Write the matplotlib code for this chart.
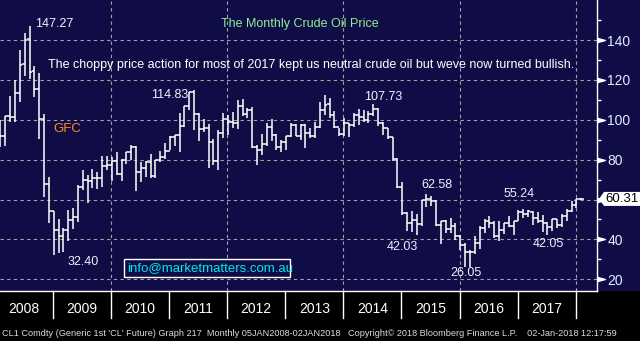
import numpy as np
import pandas as pd
import matplotlib
matplotlib.use("Agg")
import matplotlib.pyplot as plt
from matplotlib.patches import Rectangle, Polygon

# CL1 generic front month, monthly bars Jan 2008 - Jan 2018
months = pd.date_range("2008-01-01", "2018-01-01", freq="MS")

opens = [96.0, 91.9, 101.8, 101.6, 113.5, 127.8, 140.3, 124.3, 115.5, 100.6, 67.8, 54.4,
         44.6, 41.7, 44.8, 49.7, 51.1, 66.3, 69.9, 69.5, 70.6, 70.6, 77.0, 77.3,
         79.4, 72.9, 79.7, 83.8, 86.2, 74.0, 75.6, 79.0, 71.9, 80.0, 81.4, 84.1,
         91.4, 92.2, 97.0, 106.7, 113.9, 102.7, 95.4, 95.7, 88.8, 79.2, 93.2, 100.4,
         98.8, 98.5, 107.1, 103.0, 104.9, 86.5, 85.0, 88.1, 96.5, 92.2, 86.2, 88.9,
         91.8, 97.5, 92.1, 97.2, 93.5, 92.0, 96.6, 105.0, 107.7, 102.3, 96.4, 92.7,
         98.4, 97.5, 102.6, 101.6, 99.7, 102.7, 105.4, 98.2, 96.0, 91.2, 80.5, 66.2,
         53.3, 48.2, 49.8, 47.6, 59.6, 60.3, 59.5, 47.1, 49.2, 45.1, 46.6, 41.7,
         37.0, 33.6, 33.8, 38.3, 45.9, 49.1, 48.3, 41.6, 44.7, 48.2, 46.9, 49.4,
         53.7, 52.8, 54.0, 50.6, 49.3, 48.3, 46.0, 50.2, 47.2, 51.7, 54.4, 57.4,
         60.4]
highs = [100.09, 102.08, 111.80, 119.93, 135.09, 143.67, 147.27, 127.0, 123.5, 102.65, 71.25, 54.5,
         50.0, 45.5, 54.7, 55.7, 67.3, 74.8, 72.3, 75.4, 74.0, 82.0, 82.0, 81.4,
         83.95, 80.5, 83.9, 87.15, 87.0, 79.0, 79.5, 82.97, 80.0, 84.4, 88.6, 92.0,
         92.58, 103.4, 106.95, 113.93, 114.83, 103.4, 100.6, 98.0, 90.5, 94.65, 103.4, 102.4,
         103.74, 109.95, 110.55, 106.0, 106.2, 87.3, 92.94, 98.3, 100.4, 92.95, 89.9, 92.0,
         98.24, 97.8, 97.8, 97.8, 96.0, 99.0, 108.9, 112.24, 110.7, 104.5, 95.9, 100.75,
         98.6, 103.4, 105.2, 104.99, 104.4, 107.73, 105.8, 98.8, 95.9, 91.5, 81.0, 69.0,
         53.6, 54.24, 52.5, 59.9, 62.58, 61.9, 59.7, 49.3, 49.5, 50.9, 48.4, 42.0,
         38.4, 34.7, 41.9, 46.78, 50.2, 51.67, 49.0, 49.0, 48.3, 51.93, 49.2, 54.51,
         55.24, 54.9, 54.3, 53.7, 52.0, 48.9, 50.4, 50.2, 52.8, 55.2, 59.05, 60.5,
         60.74]
lows = [86.11, 86.80, 98.65, 98.65, 109.10, 122.0, 120.42, 111.34, 90.51, 61.30, 48.25, 32.40,
        33.2, 33.55, 39.4, 45.1, 48.7, 65.0, 58.32, 65.6, 65.05, 66.5, 74.8, 69.5,
        72.43, 69.5, 78.0, 80.0, 64.24, 69.0, 71.5, 70.8, 71.0, 79.0, 80.1, 85.0,
        87.1, 84.0, 96.4, 105.0, 94.63, 89.6, 94.0, 75.71, 77.1, 74.95, 91.0, 92.5,
        96.0, 95.4, 102.0, 101.0, 85.9, 77.28, 82.2, 87.0, 89.6, 84.9, 84.05, 84.6,
        91.5, 92.0, 90.0, 86.06, 91.0, 91.0, 95.9, 102.2, 101.0, 96.1, 91.77, 91.9,
        91.24, 96.5, 97.4, 98.9, 98.6, 101.8, 97.1, 92.5, 90.4, 79.44, 65.69, 52.07,
        44.2, 43.6, 42.03, 46.7, 56.5, 57.0, 46.68, 37.75, 43.2, 43.0, 39.9, 34.5,
        26.19, 26.05, 32.6, 35.2, 43.0, 45.8, 40.57, 39.19, 42.5, 46.0, 42.2, 49.1,
        50.7, 51.2, 47.1, 48.2, 43.8, 42.05, 44.0, 45.6, 46.3, 49.1, 53.8, 55.8,
        59.95]
closes = [91.75, 101.84, 101.58, 113.46, 127.35, 140.00, 124.08, 115.46, 100.64, 67.81, 54.43, 44.60,
          41.68, 44.76, 49.66, 51.12, 66.31, 69.89, 69.45, 70.61, 70.61, 77.00, 77.28, 79.36,
          72.89, 79.66, 83.76, 86.15, 73.97, 75.63, 78.95, 71.92, 79.97, 81.43, 84.11, 91.38,
          92.19, 96.97, 106.72, 113.93, 102.70, 95.42, 95.70, 88.81, 79.20, 93.19, 100.36, 98.83,
          98.48, 107.07, 103.02, 104.87, 86.53, 84.96, 88.06, 96.47, 92.19, 86.24, 88.91, 91.82,
          97.49, 92.05, 97.23, 93.46, 91.97, 96.56, 105.03, 107.65, 102.33, 96.38, 92.72, 98.42,
          97.49, 102.59, 101.58, 99.74, 102.71, 105.37, 98.17, 95.96, 91.16, 80.54, 66.15, 53.27,
          48.24, 49.76, 47.60, 59.63, 60.30, 59.47, 47.12, 49.20, 45.09, 46.59, 41.65, 37.04,
          33.62, 33.75, 38.34, 45.92, 49.10, 48.33, 41.60, 44.70, 48.24, 46.86, 49.44, 53.72,
          52.81, 54.01, 50.60, 49.33, 48.32, 46.04, 50.17, 47.23, 51.67, 54.38, 57.40, 60.42,
          60.31]

years = [str(y) for y in range(2008, 2018)]
price_ticks = [20, 40, 60, 80, 100, 120, 140]
minor_ticks = [30, 50, 70, 90, 110, 130, 150]
last_price = closes[-1]

W, H = 640, 341
NAVY = "#100c46"
SANS = ["Liberation Sans", "DejaVu Sans"]

fig = plt.figure(figsize=(6.4, 3.41), dpi=100, facecolor="black")


def fx(px):
    return px / W


def fy(py):
    return 1 - py / H


# navy panel behind chart and price scale
fig.patches.append(Rectangle((0, fy(291)), 1, 291 / H, transform=fig.transFigure,
                             facecolor=NAVY, edgecolor="none", zorder=-5))

ax = fig.add_axes([0, fy(291), fx(597), 291 / H])
ax.set_facecolor(NAVY)

x = np.arange(len(months))
ax.vlines(x, lows, highs, color="white", lw=1.1, zorder=3)
ax.hlines(opens, x - 0.5, x, color="white", lw=1.1, zorder=3)
ax.hlines(closes, x, x + 0.5, color="white", lw=1.1, zorder=3)

ax.set_xlim(-0.103, 123.24)
ax.set_ylim(14.13, 160.07)

# year boundaries
edges = 10.85 + 12 * np.arange(len(years))
for e in edges[1::2]:
    ax.axvline(e, color="#a4a4a4", lw=0.8, ls=(0, (3, 3)), zorder=1)
ax.set_yticks(price_ticks)
# the last price tag sits over the 60 label
ax.set_yticklabels(["" if t == 60 else str(t) for t in price_ticks])
ax.yaxis.grid(True, color="#a4a4a4", lw=0.8, ls=(0, (3, 3)), zorder=1)
ax.set_xticks([])

# right price scale
ax.yaxis.tick_right()
ax.set_yticks(minor_ticks, minor=True)
ax.tick_params(axis="y", which="major", length=0, pad=7.5, labelcolor="#e4eaff",
               labelsize=10, labelfontfamily=SANS)
ax.tick_params(axis="y", which="minor", length=3, width=1, color="white", direction="out")
for s in ["top", "left"]:
    ax.spines[s].set_visible(False)
ax.spines["right"].set_color("white")
ax.spines["bottom"].set_color("white")
ax.spines["right"].set_linewidth(1)
ax.spines["bottom"].set_linewidth(1)

arrow = [(-1, -0.55), (1, 0), (-1, 0.55), (-1, -0.55)]
ax.plot([1 + 4 / 597] * len(price_ticks), price_ticks, ls="none", marker=arrow,
        markersize=5.5, color="white", transform=ax.get_yaxis_transform(), clip_on=False)

# last price tag
tag_y = 279.3 - (last_price - 20) * 1.994
tag = Polygon([(fx(599), fy(tag_y)), (fx(604), fy(tag_y - 7)), (fx(640), fy(tag_y - 7)),
               (fx(640), fy(tag_y + 7)), (fx(604), fy(tag_y + 7))],
              closed=True, transform=fig.transFigure, facecolor="white", edgecolor="none",
              zorder=5)
fig.add_artist(tag)
fig.text(fx(605), fy(tag_y), f"{last_price:.2f}", color="black", fontsize=9.5,
         family=SANS, va="center", ha="left", zorder=6)

# year band below the chart
for e in edges:
    xp = 0.5 + 4.84 * e
    fig.add_artist(plt.Line2D([fx(xp), fx(xp)], [fy(291), fy(318)], color="white", lw=1,
                              transform=fig.transFigure))
for yr, e in zip(years, edges):
    xp = 0.5 + 4.84 * (e - 6)
    fig.text(fx(xp), fy(309), yr, color="white", fontsize=10, family=SANS,
             ha="center", va="center")

fig.text(fx(2), fy(333),
         "CL1 Comdty (Generic 1st 'CL' Future) Graph 217  Monthly 05JAN2008-02JAN2018   "
         "Copyright\u00a9 2018 Bloomberg Finance L.P.    02-Jan-2018 12:17:59",
         color="#dcdcdc", fontsize=6.55, family=SANS, ha="left", va="center")

# titles and notes
fig.text(fx(300), fy(24), "The Monthly Crude Oil Price", color="#8ef08e", fontsize=9,
         family=SANS, ha="center", va="center")
fig.text(fx(48), fy(65),
         "The choppy price action for most of 2017 kept us neutral crude oil but weve now turned bullish.",
         color="white", fontsize=9, family=SANS, ha="left", va="center")
fig.text(fx(53), fy(129), "GFC", color="#ff8c1a", fontsize=9.5, family=SANS,
         ha="left", va="center")

# turning point labels
points = [("147.27", 35, 24), ("114.83", 151, 95), ("107.73", 364, 97), ("32.40", 68, 262),
          ("62.58", 421, 185), ("42.03", 387, 247), ("26.05", 450, 273),
          ("55.24", 504, 194), ("42.05", 533, 244)]
for label, xp, yp in points:
    fig.text(fx(xp), fy(yp), label, color="#eef2ff", fontsize=9, family=SANS,
             ha="left", va="center")

# contact box
fig.add_artist(Rectangle((fx(124), fy(277)), fx(290) - fx(124), (277 - 259) / H,
                         transform=fig.transFigure, facecolor=NAVY,
                         edgecolor="white", lw=1, zorder=5))
fig.text(fx(127), fy(268), "info@marketmatters.com.au", color="#00e8f0", fontsize=9.5,
         family=SANS, ha="left", va="center", zorder=6)

fig.savefig("out.png", dpi=100, facecolor="black")
